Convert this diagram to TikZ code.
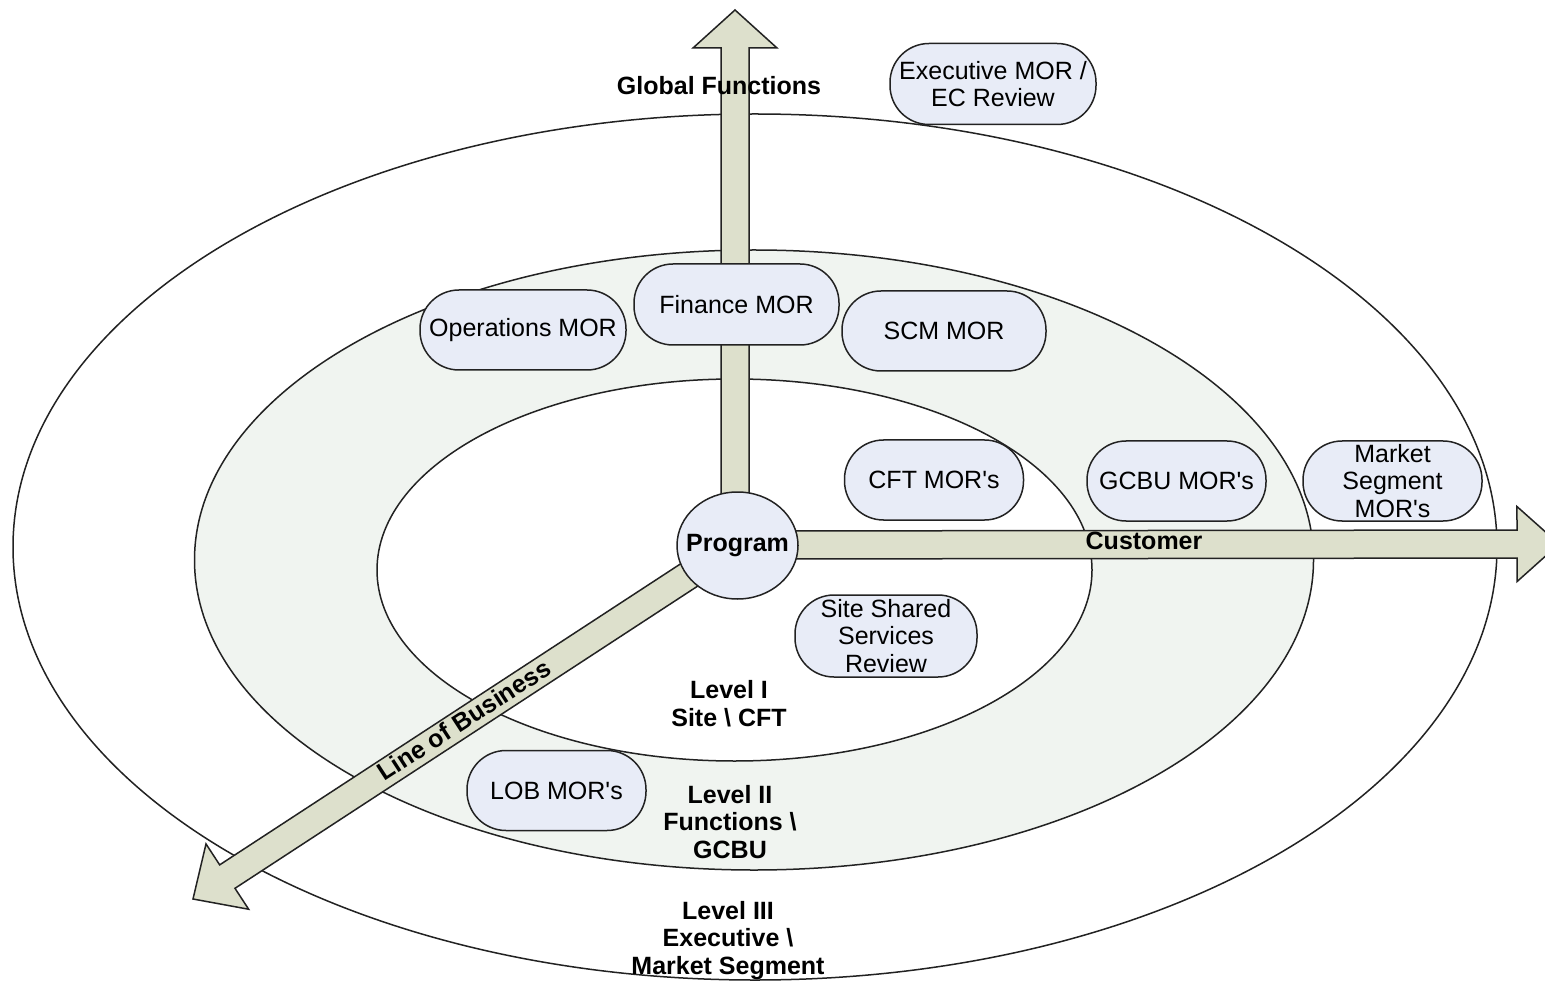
\documentclass[tikz,border=0pt]{standalone}
\usepackage{fontspec}
\setmainfont{Liberation Sans}
\usetikzlibrary{calc,shapes.geometric}

\definecolor{ringfill}{HTML}{F0F4F0}
\definecolor{boxfill}{HTML}{E8ECF7}
\definecolor{axisfill}{HTML}{DDE0CC}
\definecolor{edge}{HTML}{222222}

% broad block arrow: #1 start, #2 tip, #3 head length, #4 head half-width
\newcommand\fatarrow[4]{%
  \coordinate (hb) at ($(#2)!#3!(#1)$);
  \draw[axis] ($(#1)!7pt!90:(#2)$) -- ($(hb)!7pt!90:(#2)$) -- ($(hb)!#4!90:(#2)$)
    -- (#2) -- ($(hb)!#4!-90:(#2)$) -- ($(hb)!7pt!-90:(#2)$) -- ($(#1)!7pt!-90:(#2)$) -- cycle;}

\tikzset{
  txt/.style={font=\fontsize{12.5}{13.7}\selectfont, text=black},
  mor/.style={txt, draw=edge, fill=boxfill, rounded corners=19.5pt, align=center,
    inner sep=0pt, minimum height=40pt},
  lvl/.style={font=\fontsize{12.5}{13.7}\selectfont\bfseries, text=black, align=center, inner sep=0pt},
  axis/.style={draw=edge, fill=axisfill, line join=miter},
  ring/.style={ellipse, draw=edge, inner sep=0pt},
}

\begin{document}
\begin{tikzpicture}[x=0.5pt, y=-0.5pt, line width=0.75pt]
\useasboundingbox (0,0) rectangle (1545,983);
\clip (0,0) rectangle (1545,983);
\fill[white] (0,0) rectangle (1545,983);

% the three levels
\node[ring, minimum width=742pt, minimum height=433pt] (outer) at (755,547) {};
\node[ring, fill=ringfill, minimum width=559.5pt, minimum height=310pt] (middle) at (754,560) {};
\node[ring, fill=white, minimum width=357.5pt, minimum height=191pt] (inner) at (734.5,570) {};

% the three axes
\coordinate (hub) at (735,545);
\coordinate (vtip) at (735,10);
\coordinate (htip) at (1559,544);
\coordinate (dtip) at (193,899);
\fatarrow{hub}{vtip}{19pt}{21pt}
\fatarrow{hub}{htip}{21pt}{18.75pt}
\fatarrow{hub}{dtip}{20.5pt}{19.5pt}

% reviews
\node[mor, minimum width=103pt, minimum height=40.5pt] (exec) at (993,84) {Executive MOR /\\EC Review};
\node[mor, minimum width=103pt] (ops) at (523,330) {Operations MOR};
\node[mor, minimum width=102.5pt, minimum height=40.5pt] (fin) at (736.5,304.5) {Finance MOR};
\node[mor, minimum width=102pt] (scm) at (944,331) {SCM MOR};
\node[mor, minimum width=89.5pt] (cft) at (934,480) {CFT MOR\textquotesingle s};
\node[mor, minimum width=89.5pt] (gcbu) at (1176.5,481) {GCBU MOR\textquotesingle s};
\node[mor, minimum width=89.5pt] (mkt) at (1392.5,481) {Market\\Segment\\MOR\textquotesingle s};
\node[mor, minimum width=91pt, minimum height=41pt] (site) at (886,636) {Site Shared\\Services\\Review};
\node[mor, minimum width=89.5pt] (lob) at (556.5,790.5) {LOB MOR\textquotesingle s};

\node[ellipse, draw=edge, fill=boxfill, minimum width=60.5pt, minimum height=53.5pt,
  inner sep=0pt, label={[lvl]center:Program}] (prog) at (737.5,545.5) {};

% labels
\node[lvl] (gf) at (719,86) {Global Functions};
\node[lvl] (cust) at (1144,541) {Customer};
\node[lvl, rotate=33] (lobaxis) at (464,720) {Line of Business};
\node[lvl] (lvl1) at (729,703.5) {Level I\\Site \textbackslash{} CFT};
\node[lvl] (lvl2) at (730,822) {Level II\\Functions \textbackslash\\GCBU};
\node[lvl] (lvl3) at (728,940.5) {Level III\\Executive \textbackslash\\Market Segment};
\end{tikzpicture}
\end{document}
